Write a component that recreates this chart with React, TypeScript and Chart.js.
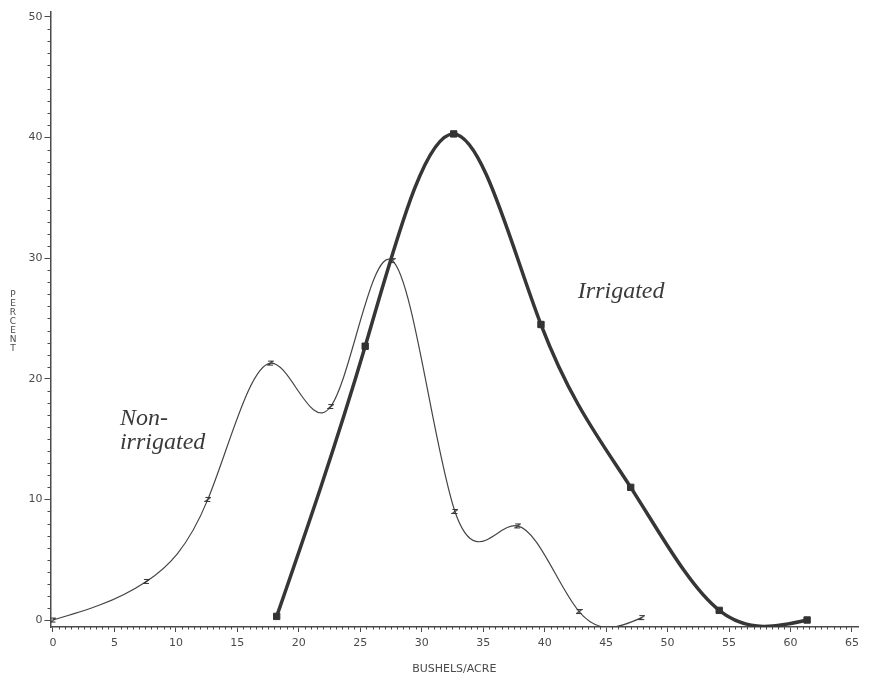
import React, { useEffect, useRef } from "react";
import { Chart, registerables } from "chart.js";

Chart.register(...registerables);

// Non-irrigated yield distribution
const nonIrrigatedX = [0, 7.6, 12.6, 17.7, 22.6, 27.6, 32.7, 37.8, 42.8, 47.9];
const nonIrrigatedY = [0, 3.2, 10.0, 21.3, 17.7, 29.8, 9.0, 7.8, 0.7, 0.2];
// Irrigated yield distribution
const irrigatedX = [18.2, 25.4, 32.6, 39.7, 47.0, 54.2, 61.35];
const irrigatedY = [0.3, 22.7, 40.3, 24.5, 11.0, 0.8, 0.0];

const xTicks = [0, 5, 10, 15, 20, 25, 30, 35, 40, 45, 50, 55, 60, 65];
const yTicks = [0, 10, 20, 30, 40, 50];
const xTitle = "BUSHELS/ACRE";
const yTitle = "PERCENT";
const labelNon = ["Non-", "irrigated"];
const labelIrr = "Irrigated";

const AXIS = "#4a4a4a";
const TICKFONT = "'DejaVu Sans', sans-serif";

function makeZMarker(): HTMLCanvasElement {
  const c = document.createElement("canvas");
  c.width = 7;
  c.height = 7;
  const g = c.getContext("2d")!;
  g.strokeStyle = "#333";
  g.lineWidth = 1.2;
  g.beginPath();
  g.moveTo(1, 1.5);
  g.lineTo(6, 1.5);
  g.lineTo(1, 5.5);
  g.lineTo(6, 5.5);
  g.stroke();
  return c;
}

// Natural cubic spline y(x) through the plotted points, expressed as bezier
// control points on Chart.js point elements.
function applyNaturalSpline(pts: any[]) {
  const n = pts.length;
  if (n < 3) return;
  const xs = pts.map((p) => p.x);
  const ys = pts.map((p) => p.y);
  const h: number[] = [];
  for (let i = 0; i < n - 1; i++) h.push(xs[i + 1] - xs[i]);
  const M = new Array(n).fill(0);
  const a: number[] = [], b: number[] = [], c: number[] = [], d: number[] = [];
  for (let i = 1; i < n - 1; i++) {
    a.push(h[i - 1]);
    b.push(2 * (h[i - 1] + h[i]));
    c.push(h[i]);
    d.push(6 * ((ys[i + 1] - ys[i]) / h[i] - (ys[i] - ys[i - 1]) / h[i - 1]));
  }
  const m = b.length;
  for (let i = 1; i < m; i++) {
    const w = a[i] / b[i - 1];
    b[i] -= w * c[i - 1];
    d[i] -= w * d[i - 1];
  }
  const sol = new Array(m).fill(0);
  sol[m - 1] = d[m - 1] / b[m - 1];
  for (let i = m - 2; i >= 0; i--) sol[i] = (d[i] - c[i] * sol[i + 1]) / b[i];
  for (let i = 0; i < m; i++) M[i + 1] = sol[i];
  for (let i = 0; i < n - 1; i++) {
    const hi = h[i];
    const s = (ys[i + 1] - ys[i]) / hi;
    const d0 = s - (hi * (2 * M[i] + M[i + 1])) / 6;
    const d1 = s + (hi * (M[i] + 2 * M[i + 1])) / 6;
    pts[i].cp2x = xs[i] + hi / 3;
    pts[i].cp2y = ys[i] + (hi / 3) * d0;
    pts[i + 1].cp1x = xs[i + 1] - hi / 3;
    pts[i + 1].cp1y = ys[i + 1] - (hi / 3) * d1;
  }
  pts[0].cp1x = pts[0].x;
  pts[0].cp1y = pts[0].y;
  pts[n - 1].cp2x = pts[n - 1].x;
  pts[n - 1].cp2y = pts[n - 1].y;
}

const splinePlugin = {
  id: "naturalSpline",
  beforeDatasetDraw(chart: any, args: any) {
    const meta = args.meta;
    const line = meta.dataset;
    if (!line) return;
    line.updateControlPoints(chart.chartArea, "x");
    applyNaturalSpline(meta.data);
  },
};

const decorPlugin = {
  id: "decor",
  afterDraw(chart: any) {
    const { ctx, chartArea } = chart;
    const x = chart.scales.x;
    const y = chart.scales.y;
    ctx.save();
    // minor ticks
    ctx.strokeStyle = AXIS;
    ctx.lineWidth = 1;
    ctx.beginPath();
    for (let v = 1; v < 50; v++) {
      if (v % 10 === 0) continue;
      const py = Math.round(y.getPixelForValue(v)) + 0.5;
      ctx.moveTo(chartArea.left - 3, py);
      ctx.lineTo(chartArea.left, py);
    }
    for (let i = 1; i < 131; i++) {
      if (i % 10 === 0) continue;
      const px = Math.round(x.getPixelForValue(i / 2)) + 0.5;
      ctx.moveTo(px, chartArea.bottom);
      ctx.lineTo(px, chartArea.bottom + 2.5);
    }
    ctx.stroke();

    // axis titles
    ctx.fillStyle = AXIS;
    ctx.font = `11px ${TICKFONT}`;
    ctx.textAlign = "center";
    ctx.textBaseline = "middle";
    ctx.fillText(xTitle, (chartArea.left + chartArea.right) / 2, 669);
    ctx.font = `9px ${TICKFONT}`;
    const letters = yTitle.split("");
    letters.forEach((ch, i) => {
      ctx.fillText(ch, 13, 295 + i * 9);
    });

    // series annotations
    ctx.fillStyle = "#3a3a3a";
    ctx.font = "italic 24px 'Liberation Serif', serif";
    ctx.textAlign = "left";
    ctx.textBaseline = "alphabetic";
    ctx.fillText(labelNon[0], x.getPixelForValue(5.45), y.getPixelForValue(16.2));
    ctx.fillText(labelNon[1], x.getPixelForValue(5.45), y.getPixelForValue(14.2));
    ctx.fillText(labelIrr, x.getPixelForValue(42.7), y.getPixelForValue(26.7));
    ctx.restore();
  },
};

export default function App() {
  const ref = useRef<HTMLCanvasElement>(null);
  useEffect(() => {
    document.body.style.margin = "0";
    const canvas = ref.current!;
    const zMarker = makeZMarker();
    const chart = new Chart(canvas, {
      type: "line",
      data: {
        datasets: [
          {
            label: "Irrigated",
            data: irrigatedX.map((v, i) => ({ x: v, y: irrigatedY[i] })),
            borderColor: "#363636",
            borderWidth: 3.5,
            tension: 0.4,
            capBezierPoints: false,
            pointStyle: "rect",
            pointRadius: 4.5,
            pointBackgroundColor: "#333",
            pointBorderColor: "#333",
            pointBorderWidth: 1,
            fill: false,
          },
          {
            label: "Non-irrigated",
            data: nonIrrigatedX.map((v, i) => ({ x: v, y: nonIrrigatedY[i] })),
            borderColor: "#454545",
            borderWidth: 1.2,
            tension: 0.4,
            capBezierPoints: false,
            pointStyle: zMarker as any,
            pointRadius: 3,
            fill: false,
          },
        ],
      },
      options: {
        animation: false,
        responsive: false,
        layout: { padding: { left: 0, top: 12, right: 12, bottom: 0 } },
        plugins: { legend: { display: false }, tooltip: { enabled: false } },
        scales: {
          x: {
            type: "linear",
            min: -0.2,
            max: 65.49,
            afterBuildTicks: (s: any) => {
              s.ticks = xTicks.map((v) => ({ value: v }));
            },
            afterFit: (s: any) => {
              s.height = 50;
            },
            ticks: {
              color: AXIS,
              font: { family: TICKFONT, size: 11 },
              padding: 5,
              maxRotation: 0,
              autoSkip: false,
            },
            grid: {
              drawOnChartArea: false,
              drawTicks: true,
              tickLength: 5,
              color: AXIS,
            },
            border: { display: true, color: AXIS, width: 1.5 },
          },
          y: {
            type: "linear",
            min: -0.58,
            max: 50.41,
            afterBuildTicks: (s: any) => {
              s.ticks = yTicks.map((v) => ({ value: v }));
            },
            afterFit: (s: any) => {
              s.width = 50.5;
            },
            ticks: {
              color: AXIS,
              font: { family: TICKFONT, size: 11 },
              padding: 2,
              autoSkip: false,
            },
            grid: {
              drawOnChartArea: false,
              drawTicks: true,
              tickLength: 6,
              color: AXIS,
            },
            border: { display: true, color: AXIS, width: 1.5 },
          },
        },
      },
      plugins: [splinePlugin, decorPlugin],
    });
    return () => chart.destroy();
  }, []);
  return <canvas ref={ref} width={870} height={677} style={{ display: "block" }} />;
}
